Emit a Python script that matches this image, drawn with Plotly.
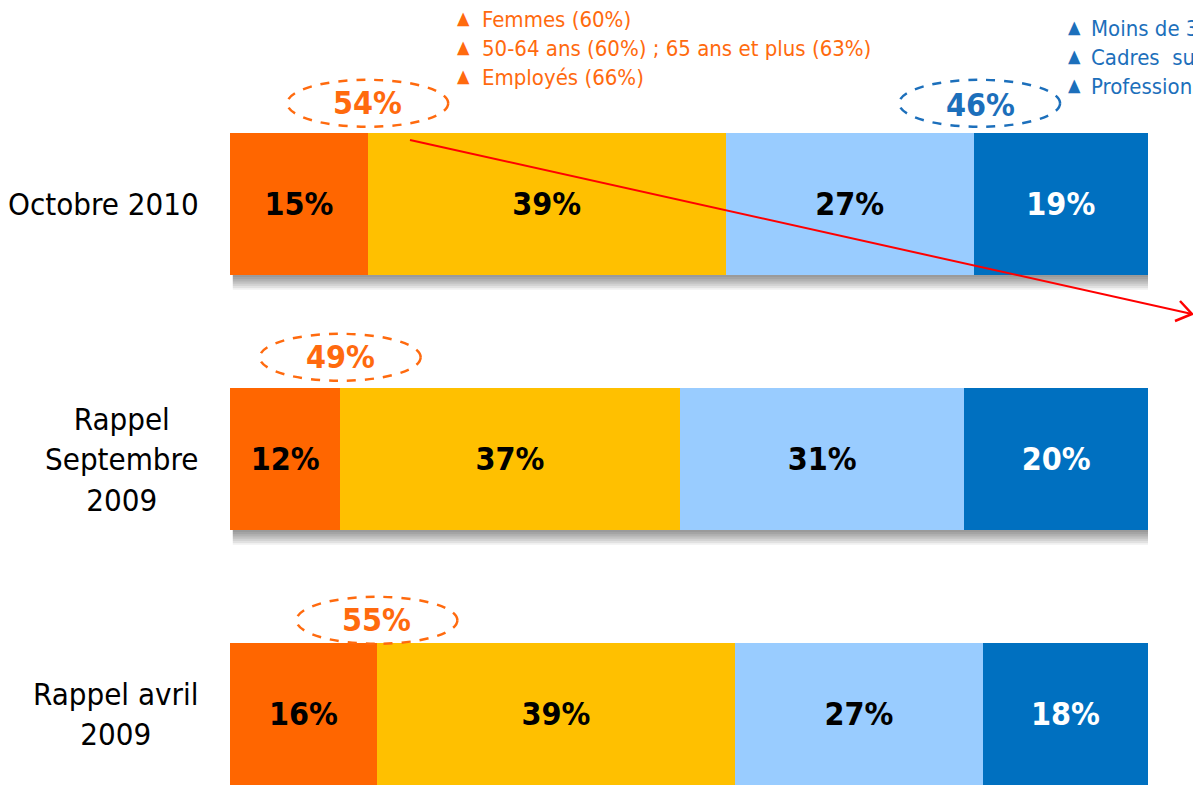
import plotly.graph_objects as go

# ---- data -------------------------------------------------------------
categories = ["Octobre 2010", "Rappel Septembre 2009", "Rappel avril 2009"]
category_labels = ["Octobre 2010", "Rappel<br>Septembre<br>2009", "Rappel avril<br>2009"]

series_names = ["Niveau 1", "Niveau 2", "Niveau 3", "Niveau 4"]
level_1 = [15, 12, 16]
level_2 = [39, 37, 39]
level_3 = [27, 31, 27]
level_4 = [19, 20, 18]

orange_notes = ["Femmes (60%)", "50-64 ans (60%) ; 65 ans et plus (63%)", "Employés (66%)"]
blue_notes = ["Moins de 35 ans", "Cadres  supérieurs", "Professions intermédiaires"]

# ---- styling ----------------------------------------------------------
W, H = 1193, 785
bar_colors = ["#FF6600", "#FFC000", "#99CCFF", "#0070C0"]
label_colors = ["#000000", "#000000", "#000000", "#FFFFFF"]
ORANGE_TXT = "#FF6A0E"
BLUE_TXT = "#1C6FBB"
FONT = "DejaVu Sans Condensed, DejaVu Sans, sans-serif"

X0_PX, X1_PX = 230, 1148          # horizontal extent of the 0..100 axis
ROW_PX = 255.0                    # pixel distance between bar centres
FIRST_CENTRE_PX = 204.3
BAR_W = 142 / ROW_PX
y_top = -FIRST_CENTRE_PX / ROW_PX
y_bottom = y_top + H / ROW_PX
PX_X = 100.0 / (X1_PX - X0_PX)    # data units per pixel (x)
PX_Y = 1.0 / ROW_PX               # data units per pixel (y)


def px(x):
    return x / W


def py(y):
    return 1 - y / H


series = [level_1, level_2, level_3, level_4]
rows = list(range(len(categories)))

fig = go.Figure()
for name, vals, col, tcol in zip(series_names, series, bar_colors, label_colors):
    fig.add_trace(go.Bar(
        name=name,
        y=rows,
        x=vals,
        orientation="h",
        width=BAR_W,
        marker=dict(color=col, line=dict(width=0)),
        text=[f"{v}%" for v in vals],
        textposition="inside",
        insidetextanchor="middle",
        textangle=0,
        textfont=dict(family=FONT, size=32, color=tcol, weight="bold"),
        hoverinfo="skip",
    ))

shapes = []
annotations = []

# soft drop shadow under each bar
for i in rows:
    total = level_1[i] + level_2[i] + level_3[i] + level_4[i]
    bottom = i + BAR_W / 2
    for k in range(1, 9):
        shapes.append(dict(
            type="rect", xref="x", yref="y", layer="below",
            x0=0.3, x1=total + k * 1.1 * PX_X,
            y0=bottom - 2 * PX_Y, y1=bottom + k * 1.8 * PX_Y,
            fillcolor="rgba(0,0,0,0.06)", line=dict(width=0),
        ))

# dashed ellipses with the combined shares
ELL_HW = 80.5 * PX_X
ELL_HH = 23.5 * PX_Y
ellipse_gap_px = [30, 31, 23]
for i in rows:
    left_total = level_1[i] + level_2[i]
    cy = i - BAR_W / 2 - ellipse_gap_px[i] * PX_Y
    shapes.append(dict(
        type="circle", xref="x", yref="y",
        x0=level_1[i] - ELL_HW, x1=level_1[i] + ELL_HW,
        y0=cy - ELL_HH, y1=cy + ELL_HH,
        line=dict(color=ORANGE_TXT, width=2.5, dash="dash"),
    ))
    annotations.append(dict(
        xref="x", yref="y", x=level_1[i], y=cy, text=f"{left_total}%",
        showarrow=False, xanchor="center", yanchor="middle",
        font=dict(family=FONT, size=32, color=ORANGE_TXT, weight="bold"),
    ))

right_total = level_3[0] + level_4[0]
bx = level_1[0] + level_2[0] + level_3[0]
cy = 0 - BAR_W / 2 - 30 * PX_Y
shapes.append(dict(
    type="circle", xref="x", yref="y",
    x0=bx - ELL_HW + 6 * PX_X, x1=bx + ELL_HW + 6 * PX_X,
    y0=cy - ELL_HH, y1=cy + ELL_HH,
    line=dict(color=BLUE_TXT, width=2.5, dash="dash"),
))
annotations.append(dict(
    xref="x", yref="y", x=bx + 7 * PX_X, y=cy + 2 * PX_Y, text=f"{right_total}%",
    showarrow=False, xanchor="center", yanchor="middle",
    font=dict(family=FONT, size=32, color=BLUE_TXT, weight="bold"),
))

# category labels
for i, lab in zip(rows, category_labels):
    annotations.append(dict(
        xref="paper", yref="y", x=px(201), y=i, text=lab,
        showarrow=False, xanchor="right", yanchor="middle", align="center",
        font=dict(family=FONT, size=31, color="#000000"),
    ))

# sub-group notes
for j, note in enumerate(orange_notes):
    yc = 20 + 29 * j
    annotations.append(dict(
        xref="paper", yref="paper", x=px(463), y=py(yc - 2), text="▲",
        showarrow=False, xanchor="center", yanchor="middle",
        font=dict(family=FONT, size=18, color=ORANGE_TXT),
    ))
    annotations.append(dict(
        xref="paper", yref="paper", x=px(480), y=py(yc), text=note,
        showarrow=False, xanchor="left", yanchor="middle",
        font=dict(family=FONT, size=22, color=ORANGE_TXT),
    ))
for j, note in enumerate(blue_notes):
    yc = 29 + 29 * j
    annotations.append(dict(
        xref="paper", yref="paper", x=px(1074), y=py(yc - 2), text="▲",
        showarrow=False, xanchor="center", yanchor="middle",
        font=dict(family=FONT, size=18, color=BLUE_TXT),
    ))
    annotations.append(dict(
        xref="paper", yref="paper", x=px(1089), y=py(yc), text=note,
        showarrow=False, xanchor="left", yanchor="middle",
        font=dict(family=FONT, size=22, color=BLUE_TXT),
    ))

# red trend arrow with an open head
ax0, ay0, ax1, ay1 = 410, 140, 1192, 314
shapes.append(dict(type="line", xref="paper", yref="paper",
                   x0=px(ax0), y0=py(ay0), x1=px(ax1), y1=py(ay1),
                   line=dict(color="#FF0000", width=2)))
shapes.append(dict(type="path", xref="paper", yref="paper",
                   path=f"M {px(1180)},{py(301)} L {px(ax1)},{py(ay1)} L {px(1175)},{py(321)}",
                   line=dict(color="#FF0000", width=2.5)))

fig.update_layout(
    width=W, height=H,
    margin=dict(l=0, r=0, t=0, b=0),
    paper_bgcolor="white", plot_bgcolor="white",
    barmode="stack",
    showlegend=False,
    xaxis=dict(domain=[X0_PX / W, X1_PX / W], range=[0, 100],
               visible=False, fixedrange=True),
    yaxis=dict(domain=[0, 1], range=[y_bottom, y_top], visible=False,
               fixedrange=True),
    shapes=shapes,
    annotations=annotations,
    uniformtext=dict(mode=False),
)

fig.write_html("out.html", config={"displayModeBar": False})
